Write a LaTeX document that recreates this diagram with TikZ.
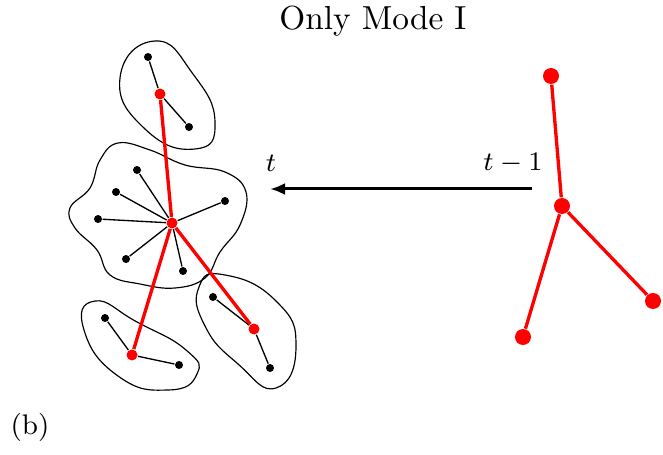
\documentclass[tikz,border=0pt]{standalone}
\usetikzlibrary{arrows.meta}
\begin{document}
\begin{tikzpicture}[x=0.3pt,y=-0.3pt,
  bdot/.style={circle,fill=black,inner sep=0pt,minimum size=2.4pt},
  rdot/.style={circle,fill=red,inner sep=0pt,minimum size=3.3pt},
  bigrdot/.style={circle,fill=red,inner sep=0pt,minimum size=4.8pt},
  thinedge/.style={draw=black,line width=0.4pt},
  rededge/.style={draw=red,line width=1pt},
  blob/.style={draw=black,line width=0.35pt},
  lbl/.style={inner sep=0pt,font=\fontsize{8}{10}\selectfont}]
\useasboundingbox (0,0) rectangle (663,455);
% blobs
\draw[blob] plot[smooth cycle,tension=0.9] coordinates {(155,41) (193,74) (215,122) (195,149) (145,129) (120,78)};
\draw[blob] plot[smooth cycle,tension=0.7] coordinates {(118,143) (150,150) (185,165) (225,172) (246,192) (240,225) (220,252) (205,278) (175,288) (140,284) (110,275) (97,250) (75,228) (70,208) (90,188) (100,160)};
\draw[blob] plot[smooth cycle,tension=0.9] coordinates {(95,301) (137,322) (186,350) (197,374) (168,390) (118,376) (84,330)};
\draw[blob] plot[smooth cycle,tension=0.9] coordinates {(225,275) (276,301) (296,346) (276,388) (238,364) (205,326) (199,287)};
% nodes
\node[bdot] (t1) at (148,57) {};
\node[rdot] (tr) at (160,94) {};
\node[bdot] (t2) at (189,127) {};
\node[rdot] (cr) at (172,223) {};
\node[bdot] (c1) at (137,170) {};
\node[bdot] (c2) at (116,192) {};
\node[bdot] (c3) at (98,219) {};
\node[bdot] (c4) at (126,259) {};
\node[bdot] (c5) at (183,271) {};
\node[bdot] (c6) at (225,201) {};
\node[rdot] (lr) at (132,355) {};
\node[bdot] (l1) at (105,318) {};
\node[bdot] (l2) at (179,365) {};
\node[rdot] (br) at (254,329) {};
\node[bdot] (b1) at (213,297) {};
\node[bdot] (b2) at (270,368) {};
% black edges
\path[thinedge] (t1) -- (tr) (tr) -- (t2)
  (cr) -- (c1) (cr) -- (c2) (cr) -- (c3) (cr) -- (c4) (cr) -- (c5) (cr) -- (c6)
  (lr) -- (l1) (lr) -- (l2) (br) -- (b1) (br) -- (b2);
% red edges
\path[rededge] (tr) -- (cr) (cr) -- (lr) (cr) -- (br);
% right tree
\node[bigrdot] (R0) at (562,206) {};
\node[bigrdot] (R1) at (551,76) {};
\node[bigrdot] (R2) at (523,337) {};
\node[bigrdot] (R3) at (653,301) {};
\path[rededge] (R0) -- (R1) (R0) -- (R2) (R0) -- (R3);
% arrow
\coordinate (as) at (532,189);
\coordinate (ae) at (270,189);
\draw[line width=0.9pt,-{Latex[length=4.5pt,width=3.6pt]}] (as) -- (ae);
\node[lbl] (lt) at (271,163) {$t$};
\node[lbl] (ltm) at (513,163) {$t-1$};
% title and label
\node[inner sep=0pt,font=\fontsize{10}{12}\selectfont] (title) at (373,21) {Only Mode I};
\node[inner sep=0pt,font=\fontsize{8.5}{10}\selectfont] (lab) at (30,427) {(b)};
\end{tikzpicture}
\end{document}
